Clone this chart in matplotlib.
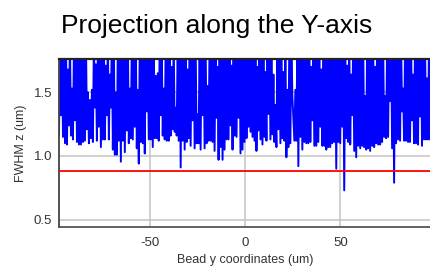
import matplotlib as mpl
mpl.use('Agg')
import matplotlib.pyplot as plt
import numpy as np

# FWHM z readings, lower end of each zigzag (left to right)
fwhm_low = [
    1.16, 1.32, 1.15, 1.10, 1.09, 1.24, 1.16, 1.13, 1.28, 1.11,
    1.09, 1.09, 1.11, 1.12, 1.21, 1.10, 1.14, 1.11, 1.38, 1.12,
    1.23, 1.07, 1.13, 1.13, 1.32, 1.13, 1.38, 1.05, 1.01, 1.01,
    1.12, 0.955, 1.12, 1.03, 1.20, 1.10, 1.14, 1.13, 1.23, 1.06,
    0.94, 1.11, 1.10, 1.02, 1.35, 1.13, 1.13, 1.07, 1.14, 1.14,
    1.12, 1.32, 1.16, 1.13, 1.12, 1.12, 1.16, 1.21, 1.19, 1.16,
    1.12, 0.91, 1.12, 1.05, 1.11, 1.14, 1.08, 1.28, 1.06, 1.10,
    1.10, 1.05, 1.32, 1.06, 1.10, 1.12, 1.12, 1.11, 1.04, 1.30,
    0.97, 1.07, 0.97, 1.05, 1.13, 1.13, 1.24, 1.05, 1.16, 1.15,
    1.30, 1.02, 1.05, 1.11, 1.14, 1.23, 1.19, 1.15, 1.12, 1.04,
    1.20, 1.13, 1.09, 1.15, 1.12, 1.33, 1.13, 1.17, 1.11, 1.07,
    1.21, 1.10, 1.14, 1.12, 0.99, 1.07, 1.10, 1.47, 1.12, 1.12,
    0.92, 1.15, 1.05, 1.11, 1.10, 1.10, 1.11, 1.28, 1.08, 1.08,
    1.11, 1.23, 1.08, 1.08, 1.05, 1.07, 1.07, 1.10, 1.11, 0.90,
    1.11, 1.10, 1.23, 0.73, 1.14, 1.11, 1.09, 1.32, 1.04, 0.99,
    1.08, 1.06, 1.08, 1.07, 1.05, 1.06, 1.04, 1.08, 1.07, 1.10,
    1.09, 1.09, 1.11, 1.15, 1.14, 1.15, 1.43, 1.06, 0.79, 1.10,
    1.13, 1.12, 1.35, 1.12, 1.12, 1.11, 1.11, 1.28, 1.10, 1.10,
    1.09, 1.31, 1.08, 1.13, 1.13, 1.13, 1.13,
]

# upper end of each zigzag (most run off the top of the axes)
fwhm_high = [
    1.92, 1.90, 1.95, 1.91, 1.68, 1.93, 1.53, 1.90, 1.94, 1.92,
    1.91, 1.95, 1.90, 1.93, 1.50, 1.44, 1.52, 1.92, 1.72, 1.91,
    1.94, 1.90, 1.93, 1.71, 1.92, 1.64, 1.95, 1.90, 1.50, 1.93,
    1.91, 1.94, 1.90, 1.92, 1.95, 1.53, 1.91, 1.90, 1.94, 1.52,
    1.92, 1.93, 1.90, 1.95, 1.91, 1.92, 1.94, 1.90, 1.63, 1.65,
    1.93, 1.91, 1.53, 1.92, 1.95, 1.90, 1.70, 1.93, 1.38, 1.91,
    1.94, 1.92, 1.90, 1.93, 1.68, 1.95, 1.91, 1.92, 1.90, 1.33,
    1.94, 1.93, 1.91, 1.90, 1.55, 1.92, 1.95, 1.93, 1.90, 1.70,
    1.91, 1.94, 1.92, 1.90, 1.93, 1.95, 1.71, 1.91, 1.92, 1.90,
    1.94, 1.93, 1.91, 1.95, 1.90, 1.92, 1.93, 1.91, 1.94, 1.70,
    1.90, 1.92, 1.95, 1.66, 1.93, 1.91, 1.90, 1.64, 1.40, 1.94,
    1.92, 1.93, 1.66, 1.90, 1.52, 1.95, 1.91, 1.30, 1.52, 1.92,
    1.94, 1.90, 1.93, 1.91, 1.95, 1.92, 1.70, 1.90, 1.93, 1.94,
    1.91, 1.68, 1.92, 1.90, 1.95, 1.93, 1.91, 1.94, 1.90, 1.92,
    1.93, 1.95, 1.91, 1.90, 1.71, 1.94, 1.64, 1.92, 1.93, 1.90,
    1.91, 1.95, 1.92, 1.47, 1.94, 1.90, 1.93, 1.91, 1.70, 1.92,
    1.95, 1.90, 1.93, 1.47, 1.91, 1.94, 1.92, 1.90, 1.93, 1.95,
    1.91, 1.92, 1.53, 1.90, 1.94, 1.93, 1.91, 1.64, 1.92, 1.90,
    1.95, 1.93, 1.91, 1.94, 1.61, 1.90, 1.92,
]

threshold = 0.88
x_range = (-97.4, 97.4)
yticks = [0.5, 1.0, 1.5]
xticks = [-50, 0, 50]

# interleave low/high readings into one zigzag trace
fwhm = np.empty(2 * len(fwhm_low))
fwhm[0::2] = fwhm_low
fwhm[1::2] = fwhm_high
bead_y = np.linspace(x_range[0], x_range[1], len(fwhm))

plt.rcParams['font.family'] = ['Liberation Sans', 'DejaVu Sans']
plt.rcParams['axes.unicode_minus'] = False

fig = plt.figure(figsize=(4.31, 2.71), dpi=100)
ax = fig.add_axes([59 / 431, 44 / 271, 1 - 59 / 431, 168 / 271])

ax.grid(color='#c8c8c8', linewidth=1.2)
ax.set_axisbelow(True)
ax.plot(bead_y, fwhm, color='#0000ff', linewidth=1.4, zorder=2)
ax.axhline(threshold, color='#ff0000', linewidth=1.3, zorder=3)

ax.set_xlim(*x_range)
ax.set_ylim(0.442, 1.762)
ax.set_xticks(xticks)
ax.set_yticks(yticks)
ax.set_yticklabels(['0.5', '1.0', '1.5'])
ax.tick_params(length=0, labelsize=9.5, colors='#333333', pad=5)
ax.tick_params(axis='x', pad=7)

ax.spines['right'].set_visible(False)
ax.spines['top'].set_color('#222222')
ax.spines['top'].set_linewidth(1.6)
ax.spines['left'].set_color('#444444')
ax.spines['left'].set_linewidth(1.3)
ax.spines['bottom'].set_color('#555555')
ax.spines['bottom'].set_linewidth(1.3)

ax.set_xlabel('Bead y coordinates (um)', fontsize=9, color='#333333', labelpad=4)
ax.set_ylabel('FWHM z (um)', fontsize=9, color='#333333', labelpad=5)

fig.text(0.503, 0.905, 'Projection along the Y-axis', ha='center', va='center',
         fontsize=19, color='black')

plt.savefig('out.png', dpi=100)
plt.close(fig)
